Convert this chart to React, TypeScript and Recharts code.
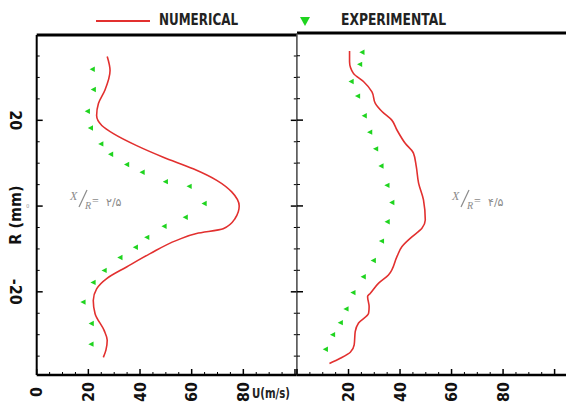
import { Scatter, ScatterChart, XAxis, YAxis } from "recharts";

// [U (m/s), R (mm)]
const numericalLeft = [
  [27.3, 34.9], [28.4, 31.6], [26.4, 27.0], [23.9, 23.9], [23.2, 21.1],
  [25.2, 18.8], [29.7, 16.9], [38.7, 14.1], [49.0, 11.4], [60.6, 8.7],
  [69.7, 6.0], [75.5, 3.3], [78.4, 0], [76.8, -2.9], [72.2, -5.3],
  [61.9, -6.4], [54.2, -8.0], [43.9, -11.1], [34.8, -14.2], [27.1, -16.9],
  [23.2, -19.3], [21.9, -22.0], [22.6, -25.1], [26.1, -29.0], [27.3, -31.3],
  [26.8, -33.6], [25.8, -35.3],
];
const experimentalLeft = [
  [21.5, 31.9], [21.9, 27.2], [19.6, 22.1], [20.8, 18.2], [24.8, 14.5],
  [28.6, 12.1], [34.8, 9.7], [40.8, 7.9], [49.8, 5.7], [59.0, 4.6],
  [64.8, 0.6], [57.5, -2.6], [49.3, -4.7], [42.6, -7.3], [38.2, -9.6],
  [32.2, -12.0], [26.1, -15.0], [21.8, -17.8], [17.9, -22.4], [21.1, -27.4],
  [21.0, -32.2],
];
const numericalRight = [
  [20.4, 36.1], [20.4, 33.6], [21.9, 30.9], [25.8, 29.0], [29.1, 26.6],
  [30.4, 23.9], [33.0, 22.0], [36.8, 20.0], [38.8, 17.7], [42.0, 14.6],
  [45.2, 12.3], [46.3, 9.2], [47.2, 5.3], [49.1, 1.4], [49.8, -3.3],
  [48.5, -5.2], [44.6, -7.2], [40.7, -9.5], [38.8, -11.8], [35.5, -16.1],
  [31.7, -18.0], [28.4, -20.4], [27.4, -21.1], [28.0, -23.5], [27.8, -25.0],
  [23.9, -27.3], [22.6, -29.3], [22.2, -32.4], [20.7, -34.1], [16.8, -35.5],
  [12.6, -36.7],
];
const experimentalRight = [
  [25.2, 35.8], [24.3, 33.0], [21.0, 29.0], [23.5, 25.6], [26.1, 21.0],
  [28.2, 17.2], [30.5, 13.3], [32.6, 9.3], [34.9, 4.8], [36.8, 0.8],
  [35.0, -3.7], [32.8, -8.2], [29.6, -12.7], [25.7, -16.5], [21.7, -20.2],
  [19.0, -24.0], [16.8, -27.2], [13.8, -30.0], [11.0, -33.4],
];
const xTicks = [0, 5, 10, 15, 20, 25, 30, 35, 40, 45, 50, 55, 60, 65, 70, 75, 80, 85, 90, 95, 100];
const yTicks = [-35, -30, -25, -20, -15, -10, -5, 0, 5, 10, 15, 20, 25, 30, 35];
const panelLabels = ["۲/۵", "۴/۵"];

const FONT = "'Liberation Sans Narrow','DejaVu Sans Condensed','Liberation Sans',sans-serif";
const RED = "#e2302f";
const GREEN = "#1fd41f";

const toPoints = (rows: number[][]) => rows.map(([u, r]) => ({ u, r }));

const xTick = (side: "top" | "bottom", labelFrom: number) => (props: any) => {
  const { x, y, payload } = props;
  const v = payload.value;
  const major = v % 20 === 0;
  const d = side === "bottom" ? -1 : 1;
  return (
    <g>
      <line x1={x} x2={x} y1={y} y2={y + d * (major ? 6 : 3)} stroke="#000" strokeWidth={major ? 1.5 : 1} />
      {side === "bottom" && major && v >= labelFrom && v <= 80 ? (
        <text
          transform={`translate(${x},${y + 17}) rotate(-90)`}
          textAnchor="middle"
          dominantBaseline="central"
          fontFamily={FONT}
          fontWeight="bold"
          fontSize={16}
          fill="#111"
        >
          {v}
        </text>
      ) : null}
    </g>
  );
};

const yTick = (side: "left" | "right", labels: boolean) => (props: any) => {
  const { x, y, payload } = props;
  const v = payload.value;
  const major = v % 20 === 0;
  const d = side === "left" ? 1 : -1;
  return (
    <g>
      <line x1={x} x2={x + d * (major ? 6 : 3)} y1={y} y2={y} stroke="#000" strokeWidth={major ? 1.5 : 1} />
      {labels && major && v !== 0 ? (
        <text
          transform={`translate(${x - 21},${y}) rotate(90)`}
          textAnchor="middle"
          dominantBaseline="central"
          fontFamily={FONT}
          fontWeight="bold"
          fontSize={16}
          fill="#111"
        >
          {v}
        </text>
      ) : null}
      {labels && v === 0 ? (
        <text x={x - 9} y={y + 2} fontSize={6} fill="#999" textAnchor="middle">0</text>
      ) : null}
    </g>
  );
};

const Marker = (p: any) => {
  const { cx, cy } = p;
  return <polygon points={`${cx + 2.6},${cy - 2.7} ${cx + 2.6},${cy + 2.7} ${cx - 2.6},${cy}`} fill={GREEN} />;
};

interface PanelProps {
  left: number;
  width: number;
  plotTop: number;
  axisWidth: number;
  uMax: number;
  rMax: number;
  numerical: number[][];
  experimental: number[][];
  first: boolean;
}

function Panel({ left, width, plotTop, axisWidth, uMax, rMax, numerical, experimental, first }: PanelProps) {
  const rMin = -39.4;
  return (
    <div style={{ position: "absolute", left, top: 0 }}>
      <ScatterChart width={width} height={409} margin={{ top: plotTop - 1, right: first ? 2.2 : 0, bottom: 0, left: 0 }}>
        <XAxis
          xAxisId="b"
          dataKey="u"
          type="number"
          domain={[0, uMax]}
          allowDataOverflow
          ticks={xTicks}
          interval={0}
          height={34}
          tickSize={0}
          tickMargin={0}
          tickLine={false}
          axisLine={{ stroke: "#000", strokeWidth: 2.5 }}
          tick={xTick("bottom", first ? 0 : 20)}
        />
        <XAxis
          xAxisId="t"
          orientation="top"
          type="number"
          domain={[0, uMax]}
          allowDataOverflow
          ticks={xTicks}
          interval={0}
          height={1}
          tickSize={0}
          tickMargin={0}
          tickLine={false}
          axisLine={{ stroke: "#000", strokeWidth: 3 }}
          tick={xTick("top", 999)}
        />
        <YAxis
          yAxisId="l"
          dataKey="r"
          type="number"
          domain={[rMin, rMax]}
          allowDataOverflow
          ticks={yTicks}
          interval={0}
          width={axisWidth}
          tickSize={0}
          tickMargin={0}
          tickLine={false}
          axisLine={first ? { stroke: "#000", strokeWidth: 2 } : { stroke: "#444", strokeWidth: 1 }}
          tick={yTick("left", first)}
        />
        {first ? (
          <YAxis
            yAxisId="r"
            orientation="right"
            type="number"
            domain={[rMin, rMax]}
            allowDataOverflow
            ticks={yTicks}
            interval={0}
            width={1}
            tickSize={0}
            tickMargin={0}
            tickLine={false}
            axisLine={{ stroke: "#444", strokeWidth: 1 }}
            tick={yTick("right", false)}
          />
        ) : null}
        <Scatter
          xAxisId="b"
          yAxisId="l"
          data={toPoints(numerical)}
          line={{ stroke: RED, strokeWidth: 1.6 }}
          lineJointType="monotoneY"
          shape={() => <g />}
          isAnimationActive={false}
        />
        <Scatter
          xAxisId="b"
          yAxisId="l"
          data={toPoints(experimental)}
          shape={Marker}
          isAnimationActive={false}
        />
      </ScatterChart>
    </div>
  );
}

const Ratio = ({ x, label }: { x: number; label: string }) => (
  <g fill="#8a8a8a" stroke="none">
    <text x={x} y={200} fontFamily="'Liberation Serif',serif" fontStyle="italic" fontSize={12}>X</text>
    <line x1={x + 9} y1={207} x2={x + 17} y2={190} stroke="#8a8a8a" strokeWidth={1.2} />
    <text x={x + 15} y={209} fontFamily="'Liberation Serif',serif" fontStyle="italic" fontSize={10}>R</text>
    <text x={x + 22} y={205} fontFamily="'Liberation Serif',serif" fontSize={12}>=</text>
    <text x={x + 36} y={206} fontFamily="'DejaVu Sans',sans-serif" fontSize={11}>{label}</text>
  </g>
);

export default function App() {
  return (
    <div style={{ position: "absolute", left: 0, top: 0, width: 566, height: 409, overflow: "hidden", background: "#fff" }}>
      <Panel
        left={0}
        width={300}
        plotTop={35}
        axisWidth={36.7}
        uMax={100.7}
        rMax={39.9}
        numerical={numericalLeft}
        experimental={experimentalLeft}
        first
      />
      <Panel
        left={286.8}
        width={279.2}
        plotTop={33}
        axisWidth={10}
        uMax={104.5}
        rMax={40.3}
        numerical={numericalRight}
        experimental={experimentalRight}
        first={false}
      />
      <svg width={566} height={409} style={{ position: "absolute", left: 0, top: 0, pointerEvents: "none" }}>
        <line x1={96} y1={21} x2={150} y2={21} stroke={RED} strokeWidth={2} />
        <text x={159} y={25} textLength={79} lengthAdjust="spacingAndGlyphs" fontFamily={FONT} fontWeight="bold" fontSize={16} fill="#222">NUMERICAL</text>
        <polygon points="300,17 310,17 305,26" fill={GREEN} />
        <text x={341} y={25} textLength={105} lengthAdjust="spacingAndGlyphs" fontFamily={FONT} fontWeight="bold" fontSize={16} fill="#222">EXPERIMENTAL</text>
        <text x={252} y={398} textLength={38} lengthAdjust="spacingAndGlyphs" fontFamily={FONT} fontWeight="bold" fontSize={14} fill="#222">U(m/s)</text>
        <text
          transform="translate(15,215) rotate(-90)"
          textAnchor="middle"
          dominantBaseline="central"
          fontFamily={FONT}
          fontWeight="bold"
          fontSize={16}
          fill="#111"
        >
          R (mm)
        </text>
        <Ratio x={70} label={panelLabels[0]} />
        <Ratio x={452} label={panelLabels[1]} />
      </svg>
    </div>
  );
}
